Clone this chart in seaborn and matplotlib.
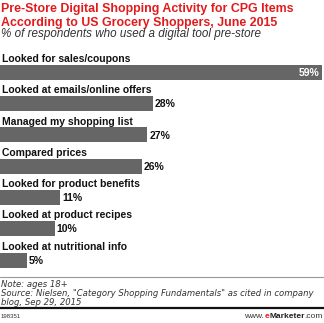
import matplotlib
matplotlib.use("Agg")
import matplotlib.pyplot as plt
import seaborn as sns
import pandas as pd

categories = [
    "Looked for sales/coupons",
    "Looked at emails/online offers",
    "Managed my shopping list",
    "Compared prices",
    "Looked for product benefits",
    "Looked at product recipes",
    "Looked at nutritional info",
]
values = [59, 28, 27, 26, 11, 10, 5]

title_lines = ["Pre-Store Digital Shopping Activity for CPG Items",
               "According to US Grocery Shoppers, June 2015"]
subtitle = "% of respondents who used a digital tool pre-store"
note = ("Note: ages 18+\n"
        "Source: Nielsen, \"Category Shopping Fundamentals\" as cited in company\n"
        "blog, Sep 29, 2015")
chart_id = "198351"

df = pd.DataFrame({"category": categories, "value": values})

sns.set_theme(style="white")
plt.rcParams["font.family"] = ["Liberation Sans", "DejaVu Sans"]

W, H = 324, 323
fig = plt.figure(figsize=(W / 100, H / 100), dpi=100)

# axes spanning pixel rows 50..272
top_px, bot_px = 50, 272
ax = fig.add_axes([0, 1 - bot_px / H, 1, (bot_px - top_px) / H])
sns.barplot(data=df, x="value", y="category", orient="h", color="#666666",
            width=0.48, saturation=1, ax=ax, linewidth=0)
for p in ax.patches:
    p.set_edgecolor("none")

c0, step = 72.5, 31.25
ax.set_ylim((bot_px - c0) / step, (top_px - c0) / step)
ax.set_xlim(0, 59 * W / 322)
ax.axis("off")

for i, (cat, v) in enumerate(zip(categories, values)):
    ax.text(0.3, i - 0.43, cat, fontsize=7.5, fontweight="bold", color="#111111",
            ha="left", va="center")
    if i == 0:
        ax.text(v - 0.5, i + 0.02, f"{v}%", fontsize=7.5, fontweight="bold",
                color="white", ha="right", va="center")
    else:
        ax.text(v + 0.35, i + 0.02, f"{v}%", fontsize=7.5, fontweight="bold",
                color="#111111", ha="left", va="center")

def fy(px):
    return 1 - px / H

for line, base in zip(title_lines, [12.3, 26.3]):
    fig.text(1 / W, fy(base), line, fontsize=8.9, fontweight="bold", color="#e31a1c",
             ha="left", va="baseline")
fig.text(1 / W, fy(37.5), subtitle, fontsize=8.4, style="italic", color="#333333",
         ha="left", va="baseline")

# separator lines
fig.add_artist(plt.Line2D([0, 1], [fy(276.5), fy(276.5)], color="#999999", lw=0.8))
fig.add_artist(plt.Line2D([0, 1], [fy(308), fy(308)], color="#111111", lw=1.6))

note_t = fig.text(1 / W, fy(280), note, fontsize=6.0, style="italic", color="#333333",
                  family="DejaVu Sans", ha="left", va="top", linespacing=1.0)
fig.text(1 / W, fy(316), chart_id, fontsize=4.3, color="#333333", ha="left", va="center")

# www.eMarketer.com
fig.canvas.draw()
r = fig.canvas.get_renderer()
# fit note width to the reference (~312 px)
w_note = note_t.get_window_extent(r).width
note_t.set_fontsize(6.0 * 312 / w_note)

parts = [("www.", "normal", "#333333"), ("e", "bold", "#e31a1c"),
         ("Marketer", "bold", "#222222"), (".com", "normal", "#333333")]
texts = []
for s, wgt, col in parts:
    t = fig.text(0, fy(316), s, fontsize=6, fontweight=wgt, color=col, ha="left", va="center")
    texts.append(t)
widths = [t.get_window_extent(r).width for t in texts]
x = 323 - sum(widths)
for t, w in zip(texts, widths):
    t.set_x(x / W)
    x += w

fig.savefig("out.png", dpi=100, facecolor="white")
